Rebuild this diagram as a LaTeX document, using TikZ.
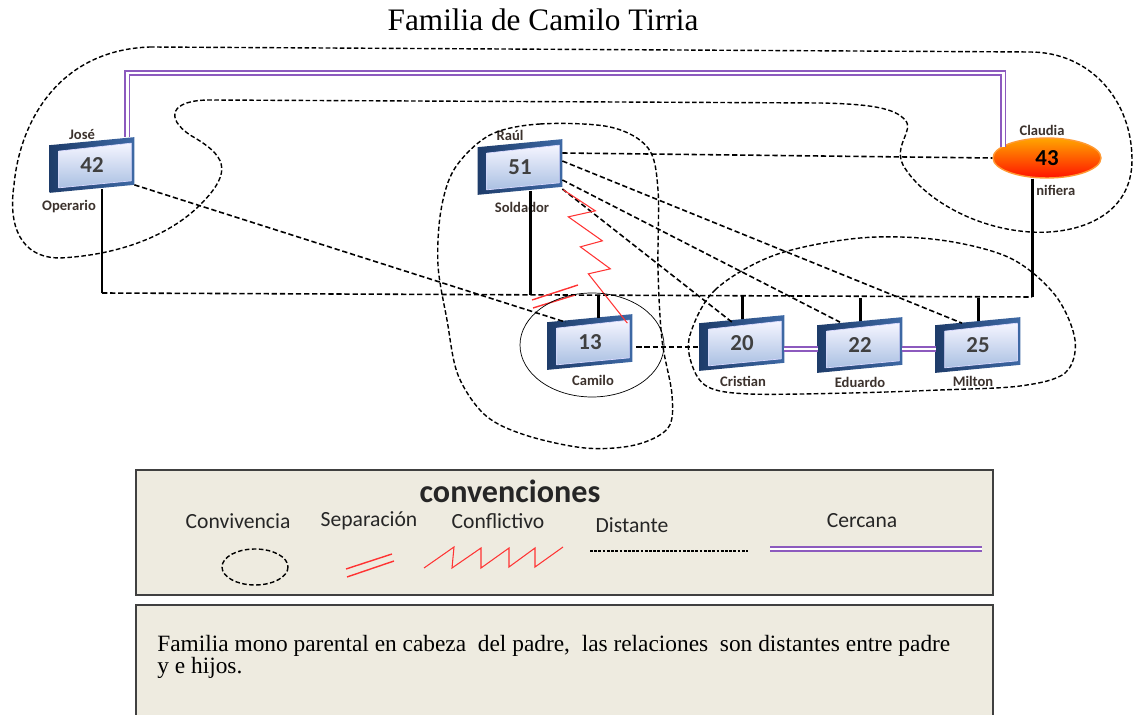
\documentclass[tikz,border=0pt]{standalone}
\usepackage{fontspec}
\setmainfont{Liberation Serif}
\newfontfamily\calibri{Carlito}
\usepackage{tikz}
\usetikzlibrary{calc,shapes.geometric,backgrounds}
\definecolor{morado}{RGB}{140,90,190}
\definecolor{fondoley}{RGB}{238,235,224}
\definecolor{etiqcolor}{RGB}{60,50,45}
\definecolor{azulosc}{RGB}{30,60,106}
\definecolor{azulmed}{RGB}{62,105,165}
\definecolor{azulcara}{RGB}{170,192,226}
\newcommand{\marco}[1]{%
 \shade[left color=azulosc, right color=azulmed] ($(#1.north west)+(0,4)$) -- ($(#1.north east)+(0,-4)$) -- ($(#1.south east)+(0,-4)$) -- ($(#1.south west)+(0,4)$) -- cycle;
 \shade[top color=blue!4, bottom color=azulcara, draw=white!85!blue, line width=0.4pt] ($(#1.north west)+(9,10)$) -- ($(#1.north east)+(-3,2)$) -- ($(#1.south east)+(-3,-8)$) -- ($(#1.south west)+(9,-1)$) -- cycle;}
\tikzset{
 caja/.style={rectangle, minimum width=1.68cm, minimum height=0.94cm, inner sep=0pt, font=\calibri\bfseries\fontsize{13}{13}\selectfont, text=black!75},
 madre/.style={ellipse, minimum width=2.16cm, minimum height=0.8cm, inner sep=0pt, top color=orange!70!yellow, bottom color=red!85!orange, draw=orange!80, line width=0.8pt, font=\calibri\bfseries\fontsize{13}{13}\selectfont},
 etiq/.style={font=\calibri\bfseries\fontsize{8.3}{9}\selectfont, text=etiqcolor, inner sep=0pt},
 leyt/.style={font=\calibri\fontsize{12.3}{13}\selectfont, text=black!85, inner sep=0pt},
 distante/.style={dash pattern=on 3pt off 1.6pt, line width=0.9pt},
 convive/.style={dash pattern=on 2.6pt off 1.4pt, line width=0.8pt},
 linea/.style={line width=1.7pt},
 cercana/.style={draw=morado, double=white, double distance=1.6pt, line width=0.9pt},
 conflicto/.style={red!80, line width=0.6pt},
 separa/.style={red!80, line width=0.8pt},
 recuadro/.style={draw=black!75, line width=1.4pt, fill=fondoley}
}
\begin{document}
\begin{tikzpicture}[x=0.02cm,y=-0.02cm]
\useasboundingbox (0,0) rectangle (1135,715);
\node (titulo) at (543,20) {\fontsize{17.8}{19}\selectfont Familia de Camilo Tirria};

\node[caja] (jose) at (92,165) {42}; \node[etiq] (ljose) at (82,135) {José}; \node[etiq] (ojose) at (69,207) {Operario};
\node[caja] (raul) at (520,167) {51}; \node[etiq] (lraul) at (510,135) {Raúl}; \node[etiq] (oraul) at (522,207) {Soldador};
\node[madre] (claudia) at (1047,158) {43}; \node[etiq] (lclaudia) at (1042,130) {Claudia}; \node[etiq, anchor=west] (oclaudia) at (1036,190) {nifiera};
\node[caja] (camilo) at (590,342) {13}; \node[etiq] (lcamilo) at (593,380) {Camilo};
\node[caja] (cristian) at (742,343) {20}; \node[etiq] (lcristian) at (743,381) {Cristian};
\node[caja] (eduardo) at (860,345) {22}; \node[etiq] (leduardo) at (860,382) {Eduardo};
\node[caja] (milton) at (978,345) {25}; \node[etiq] (lmilton) at (973,381) {Milton};
\begin{scope}[on background layer]
\foreach \c in {jose,raul,camilo,cristian,eduardo,milton} {\marco{\c}}
\end{scope}

\coordinate (hjose) at (102,293); \coordinate (hraul) at (530,295); \coordinate (hclaudia) at (1032,297);
\draw[linea] (hjose |- jose.south) -- (hjose); \draw[linea] (hraul |- raul.south) -- (hraul); \draw[linea] (hclaudia |- claudia.south) -- (hclaudia);
\draw[distante] (hjose) -- (hclaudia);
\draw[linea] ($(camilo.north)+(8,0)$) -- ++(0,-22);
\foreach \h in {cristian,eduardo,milton} \draw[linea] (\h.north) -- ++(0,-23);

\coordinate (cj) at ($(jose.north east)+(-7,-4)$); \coordinate (cc) at ($(claudia.west)+(11,-11)$);
\draw[cercana] (cj) |- (cc |- 0,73) -- (cc);
\draw[cercana] ($(cristian.east)+(0,6)$) -- ($(eduardo.west)+(0,4)$);
\draw[cercana] ($(eduardo.east)+(0,4)$) -- ($(milton.west)+(0,4)$);

\draw[distante] ($(jose.south east)+(0,-4)$) -- ($(camilo.north west)+(18,4)$);
\draw[distante] ($(raul.east)+(0,-14)$) -- (claudia.west);
\draw[distante] ($(raul.east)+(0,-6)$) -- ($(milton.north)+(-16,2)$);
\draw[distante] ($(raul.east)+(0,13)$) -- ($(eduardo.north)+(-20,1)$);
\draw[distante] ($(raul.east)+(0,22)$) -- ($(cristian.north)+(-10,3)$);
\draw[distante] ($(camilo.east)+(4,5)$) -- ($(cristian.west)+(0,4)$);

\draw[conflicto] ($(raul.south east)+(1,-1)$) -- ++(32,21) -- ++(-27,6) -- ++(34,24) -- ++(-22,6) -- ++(30,22) -- ++(-22,5) -- ($(camilo.north east)+(-5,5)$);
\draw[separa] ($(hraul)+(2,5)$) -- ++(46,-15); \draw[separa] ($(hraul)+(3,13)$) -- ++(42,-13);

\draw ($(camilo)+(2,3)$) ellipse [x radius=72, y radius=52];
\draw[convive] (150,47) -- (1030,52) .. controls (1090,52) and (1132,100) .. (1132,160) .. controls (1132,215) and (1080,235) .. (1030,232) .. controls (970,228) and (920,195) .. (903,165) .. controls (893,145) and (915,130) .. (905,120) .. controls (895,108) and (870,104) .. (820,103) -- (210,100) .. controls (170,100) and (165,118) .. (190,135) .. controls (225,155) and (235,170) .. (200,205) .. controls (170,235) and (120,255) .. (60,258) .. controls (20,258) and (8,225) .. (14,185) .. controls (20,120) and (60,50) .. (150,47);
\draw[convive] plot[smooth cycle, tension=0.55] coordinates {(490,135) (540,124) (610,127) (648,148) (658,190) (658,270) (662,340) (672,395) (668,428) (635,445) (585,448) (525,435) (485,415) (458,375) (447,320) (438,265) (441,210) (455,168)};
\draw[convive] plot[smooth cycle, tension=0.55] coordinates {(690,335) (715,290) (775,255) (860,238) (940,240) (1010,258) (1055,295) (1075,340) (1065,373) (1020,386) (940,390) (850,393) (750,394) (708,387) (692,365)};

\draw[recuadro] (136,470) rectangle (993,595);
\node[font=\calibri\bfseries\fontsize{18.3}{19}\selectfont, text=black!85] (conv) at (510,491) {convenciones};
\node[leyt] (lconviv) at (238,521) {Convivencia}; \node[leyt] (lsepara) at (369,521) {Separación};
\node[leyt] (lconfl) at (498,521) {Conflictivo}; \node[leyt] (ldist) at (632,525) {Distante}; \node[leyt] (lcerca) at (862,521) {Cercana};
\draw[convive] (255,567) ellipse [x radius=33, y radius=18];
\draw[separa] (346,569) -- (392,554); \draw[separa] (347,577) -- (394,561);
\draw[conflicto] (424,568) -- (454,547) -- (452,568) -- (481,548) -- (481,568) -- (509,548) -- (509,567) -- (535,548) -- (535,567) -- (563,547);
\draw[dash pattern=on 1.6pt off 0.8pt, line width=0.7pt] (590,551) -- (748,551);
\draw[cercana] (770,549) -- (982,549);

\draw[recuadro] (136,605) rectangle (993,730);
\node[anchor=north west, align=left, inner sep=0pt, font=\fontsize{13.3}{12.6}\selectfont] (texto) at (157,635) {Familia mono parental en cabeza\ \ del padre,\ \ las relaciones\ \ son distantes entre padre\\y e hijos.};
\end{tikzpicture}
\end{document}
